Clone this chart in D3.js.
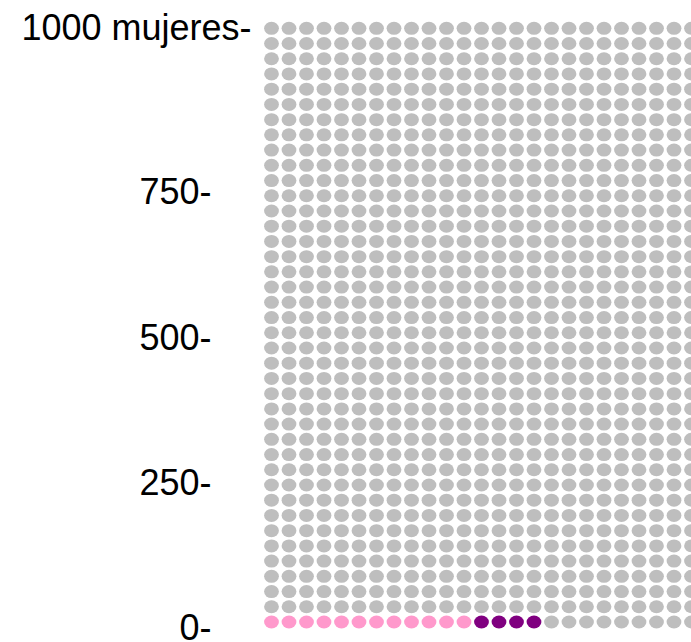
<!DOCTYPE html>
<html>
<head>
<meta charset="utf-8">
<script src="https://cdn.jsdelivr.net/npm/d3@7"></script>
<style>
  html, body { margin: 0; padding: 0; background: #ffffff; overflow: hidden; }
  svg { display: block; }
  text { font-family: "Liberation Sans", Arial, sans-serif; fill: #000; }
</style>
</head>
<body>
<svg id="chart" width="691" height="642"></svg>
<script>
// ---- data ----
const categories = ["grupo A", "grupo B", "resto"];
const counts = [12, 4, 984];
const colors = ["#FF99CC", "#800080", "#BEBEBE"];
const nCols = 25;
const tickValues = [0, 250, 500, 750];
const tickLabels = ["0-", "250-", "500-", "750-"];
const topLabel = "1000 mujeres-";

// ---- build cells ----
const cells = [];
categories.forEach((c, ci) => {
  for (let k = 0; k < counts[ci]; k++) cells.push({ cat: c, ci });
});
cells.forEach((d, i) => { d.col = i % nCols; d.row = Math.floor(i / nCols); });
const nRows = Math.ceil(cells.length / nCols);

const svg = d3.select("#chart");

const x = d3.scaleLinear().domain([0, nCols - 1]).range([271.5, 271.5 + 17.5 * (nCols - 1)]);
const y = d3.scaleLinear().domain([0, nRows - 1]).range([622, 28.3]);
const color = d3.scaleOrdinal().domain(categories).range(colors);

svg.append("g").selectAll("ellipse")
  .data(cells)
  .join("ellipse")
  .attr("cx", d => x(d.col))
  .attr("cy", d => y(d.row))
  .attr("rx", 7.4)
  .attr("ry", 6.5)
  .attr("fill", d => color(d.cat));

// ---- axis labels ----
const yAxisScale = d3.scaleLinear().domain([0, 1000]).range([627.5, 46]);
const fs = 36;
svg.append("g").selectAll("text")
  .data(tickValues)
  .join("text")
  .attr("x", 211.5)
  .attr("y", d => yAxisScale(d))
  .attr("dy", "0.36em")
  .attr("text-anchor", "end")
  .attr("font-size", fs)
  .text((d, i) => tickLabels[i]);

svg.append("text")
  .attr("x", 251.5)
  .attr("y", 27.5)
  .attr("dy", "0.36em")
  .attr("text-anchor", "end")
  .attr("font-size", fs)
  .text(topLabel);
</script>
</body>
</html>
